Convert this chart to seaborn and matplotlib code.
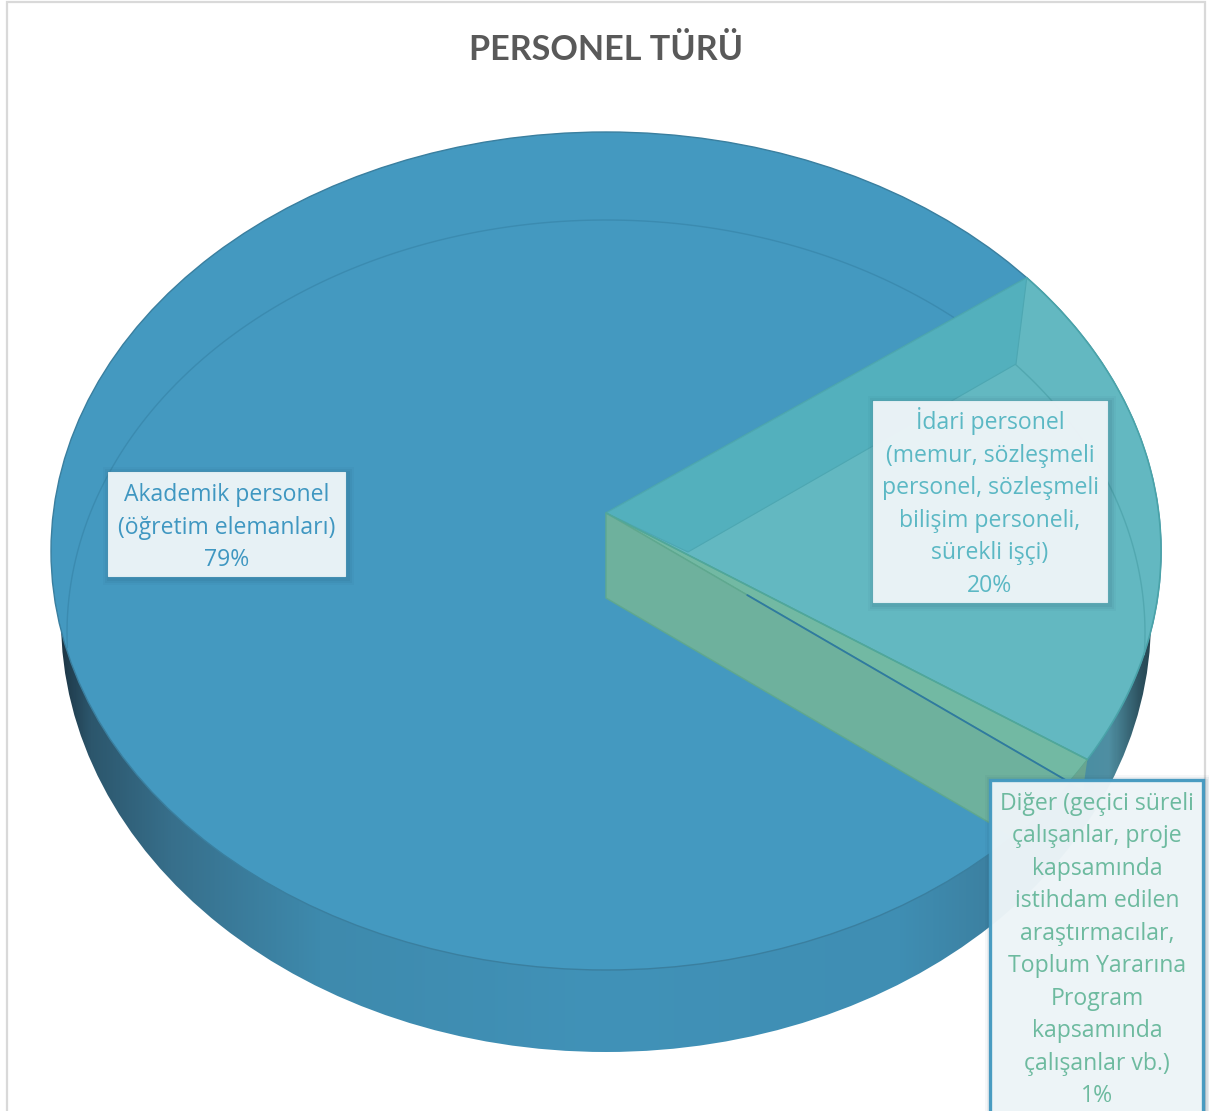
import numpy as np
import matplotlib
matplotlib.use("Agg")
import matplotlib.pyplot as plt
from matplotlib.colors import LinearSegmentedColormap
from matplotlib.patches import Ellipse, Polygon, Rectangle
import seaborn as sns

# ---- data ----
title = "PERSONEL TÜRÜ"
categories = ["İdari personel\n(memur, sözleşmeli\npersonel, sözleşmeli\nbilişim personeli,\nsürekli işçi)",
              "Diğer (geçici süreli\nçalışanlar, proje\nkapsamında\nistihdam edilen\naraştırmacılar,\nToplum Yararına\nProgram\nkapsamında\nçalışanlar vb.)",
              "Akademik personel\n(öğretim elemanları)"]
values = [19.6, 1.0, 79.4]
palette = ["#63b8c1", "#72b9a3", "#4499c0"]
text_colors = ["#5bb8c4", "#6dba9f", "#3f97c1"]

sns.set_theme(style="white")
plt.rcParams["font.family"] = ["Open Sans", "DejaVu Sans"]
colors = sns.color_palette(palette)

fig = plt.figure(figsize=(12.09, 11.11), dpi=100, facecolor="white")
ax = fig.add_axes([0, 0, 1, 1])
ax.set_xlim(0, 1209)
ax.set_ylim(1111, 0)
ax.axis("off")

# geometry of the pie
CX, CY, RX, RY = 606, 551, 555, 419
AX_, AY_ = 606, 513
START = 40.7
fracs = np.array(values) / np.sum(values)
edges = START - np.concatenate([[0], np.cumsum(fracs)]) * 360


def rim(t, cx=CX, cy=CY, rx=RX, ry=RY):
    t = np.radians(t)
    return np.column_stack([cx + rx * np.cos(t), cy - ry * np.sin(t)])


def arc(a, b, n=120, **k):
    return rim(np.linspace(a, b, n), **k)


# frame
ax.add_patch(Rectangle((7, 2), 1198, 1130, fc="white", ec="#d9d9d9", lw=1.6, zorder=0))

# side wall with horizontal gradient
stops = [(60, "#1d3645"), (90, "#2c566c"), (170, "#376f8b"), (320, "#3e8aad"),
         (600, "#4192b8"), (900, "#3f8eb3"), (1000, "#3c7f9f"), (1085, "#4a8ea3"),
         (1110, "#4f8fa2"), (1140, "#2e5462"), (1160, "#1f3a44")]
lo, hi = stops[0][0], stops[-1][0]
cmap = LinearSegmentedColormap.from_list("side", [((x - lo) / (hi - lo), c) for x, c in stops], N=1024)
im = ax.imshow(np.linspace(0, 1, 1100)[None, :], cmap=cmap, extent=(lo, hi, 1060, 500),
               aspect="auto", zorder=1, interpolation="bilinear")
side = Ellipse((606, 620), 1090, 864, transform=ax.transData, fc="none", ec="none")
ax.add_patch(side)
im.set_clip_path(side)
ax.set_xlim(0, 1209)
ax.set_ylim(1111, 0)

# top face, Akademik
ax.add_patch(Ellipse((CX, CY), 2 * RX, 2 * RY, fc=colors[2], ec="#3a7f9f", lw=1.0, zorder=2))

# bevel arc
bev = dict(cx=606, cy=633, rx=539, ry=413)
b = arc(49, 182, **bev)
ax.plot(b[:, 0], b[:, 1], color="#3b8bb0", lw=1.0, zorder=3)

# teal slice
apex = np.array([[AX_, AY_]])
teal = np.vstack([apex, arc(edges[0], edges[1])])
ax.add_patch(Polygon(teal, fc=colors[0], ec="#4aa3a9", lw=1.2, zorder=4))
b = arc(40.6, -3, **bev)
ax.plot(b[:, 0], b[:, 1], color="#52a8b0", lw=1.0, zorder=5)
ax.add_patch(Polygon([[AX_, AY_], rim(edges[0])[0], [1016, 364], [688, 552]],
                     fc="#53b0bd", ec="#4da7b2", lw=0.8, zorder=5))

# green slice and its wall
green = np.vstack([apex, arc(edges[1], edges[2], 10)])
ax.add_patch(Polygon(green, fc=colors[1], ec="#5aa891", lw=1.0, zorder=6))
wall = np.vstack([apex, [[606, 598]], arc(-42.9, edges[2], 30)])
ax.add_patch(Polygon(wall, fc="#6eb19d", ec="#5fa88f", lw=1.0, zorder=7))
end = rim(edges[1])[0]
end2 = rim(edges[2])[0]
ax.add_patch(Polygon([end, end2, [1083, 790]], fc="#69a590", ec="none", zorder=8))
p0 = apex[0] + (end2 - apex[0]) * 0.305
ax.plot([p0[0], end2[0]], [p0[1], end2[1]], color="#2f7aa0", lw=1.3, zorder=8)
ax.plot([AX_, end[0]], [AY_, end[1]], color="#4fa79c", lw=1.0, zorder=8)

# data labels
boxes = [(873, 401, 234, 201, 990, 502.5), (990, 780, 213, 360, 1097, 950), (108, 472, 237, 104, 227, 527.5)]
for i, (cat, val) in enumerate(zip(categories, values)):
    x, y, w, h, tx, ty = boxes[i]
    for off, al in [(7, .04), (5, .06), (3, .08)]:
        ax.add_patch(Rectangle((x - off + 2, y - off + 2), w + 2 * off, h + 2 * off,
                               fc="#1f4a60", ec="none", alpha=al, zorder=9))
    third = i == 1
    ax.add_patch(Rectangle((x, y), w, h, fc="#eef5f8", ec=colors[2] if third else "#e2eff4",
                           lw=2.4 if third else 0.8, alpha=.97, zorder=10))
    ax.text(tx, ty, f"{cat}\n{round(val)}%", color=text_colors[i], fontsize=16.6,
            ha="center", va="center", linespacing=1.475, zorder=11)

ax.text(606, 50, title, color="#595959", fontsize=24.6, fontweight="bold",
        family=["Lato", "DejaVu Sans"], ha="center", va="center", zorder=11)

fig.savefig("out.png", dpi=100, facecolor="white")
